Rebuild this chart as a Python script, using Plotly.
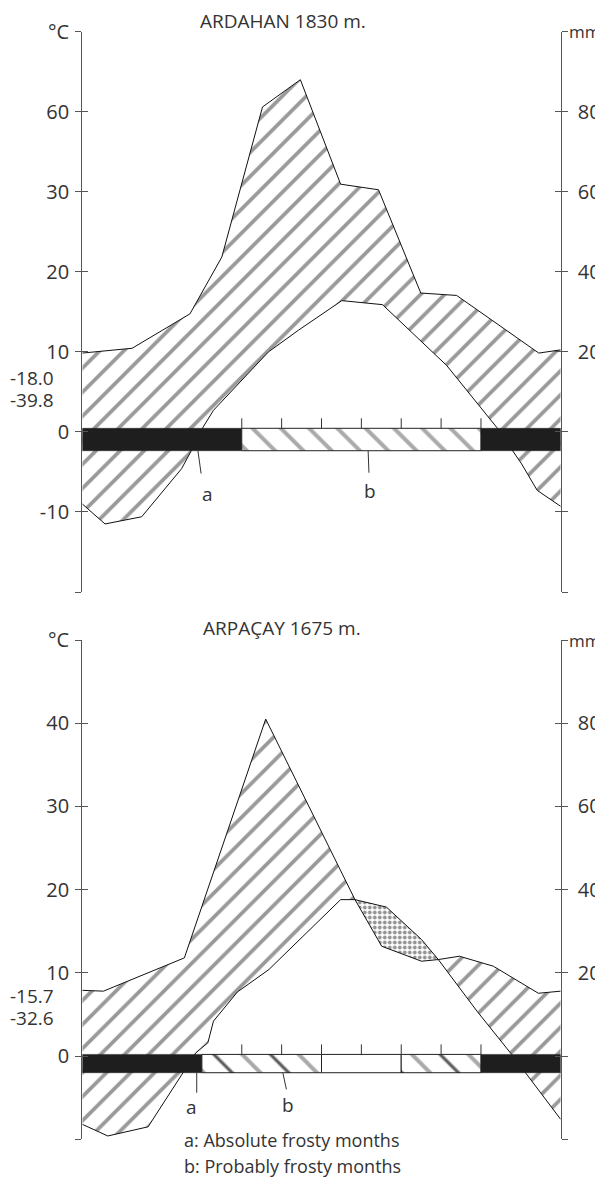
import plotly.graph_objects as go

# ---------------- data ----------------
# positions are in month units along the year (0 = 1 Jan, 12 = 31 Dec)
ard_title = "ARDAHAN 1830 m."
ard_prec_pos = [0, 1.25, 2.70, 3.50, 4.52, 5.47, 6.48, 7.43, 8.49, 9.39, 11.45, 12]
ard_prec_mm = [19.7, 20.9, 29.5, 43.7, 81.2, 88.0, 61.9, 60.5, 34.7, 34.1, 19.7, 20.5]
ard_temp_pos = [0, 0.57, 1.49, 2.49, 2.74, 3.03, 3.29, 4.67, 5.42, 6.51, 7.53, 9.14, 10.39, 11.02, 11.41, 12]
ard_temp_c = [-9.0, -11.5, -10.6, -4.6, -2.3, 0.6, 2.7, 10.0, 12.7, 16.4, 15.9, 8.3, 0.6, -4.0, -7.3, -9.3]
ard_frost = ["a", "a", "a", "a", "b", "b", "b", "b", "b", "b", "a", "a"]
ard_extremes = ["-18.0", "-39.8"]
ard_left_vals = [-10, 0, 10, 20, 30, 40]
ard_left_text = ["-10", "0", "10", "20", "30", "60"]

arp_title = "ARPAÇAY 1675 m."
arp_prec_pos = [0, 0.53, 2.56, 4.60, 6.84, 7.51, 8.51, 8.93, 9.46, 10.31, 11.44, 12]
arp_prec_mm = [15.8, 15.6, 23.6, 81.0, 37.6, 26.4, 22.8, 23.2, 24.0, 21.6, 15.1, 15.6]
arp_temp_pos = [0, 0.64, 1.65, 2.47, 2.85, 3.15, 3.29, 3.89, 4.68, 6.48, 6.84, 7.63, 8.51, 8.93, 9.90, 10.77, 12]
arp_temp_c = [-8.2, -9.6, -8.5, -2.4, 0.4, 1.6, 4.2, 7.7, 10.4, 18.8, 18.8, 17.9, 14.0, 11.6, 5.4, 0.2, -7.6]
arp_dry_span = (6.84, 8.93)
arp_frost = ["a", "a", "a", "b", "b", "b", "-", "-", "b", "b", "a", "a"]
arp_extremes = ["-15.7", "-32.6"]
arp_left_vals = [-10, 0, 10, 20, 30, 40]
arp_left_text = ["-10", "0", "10", "20", "30", "40"]

right_vals_mm = [20, 40, 60, 80]
right_text = ["20", "40", "60", "80"]

legend_lines = ["a: Absolute frosty months", "b: Probably frosty months"]

MM_PER_DEG = 2  # Walter-Lieth scale: 10 degC = 20 mm

# ---------------- style ----------------
VW, VH = 603, 1182          # browser window
BODY = 8                    # default page margin around the plot div
FW, FH = VW - BODY, VH - BODY
FONT = "Open Sans"
TXT = "#333333"
AXC = "#555555"
X0, X1 = 82.3, 560.7        # screen x of the two axes


def px(x):
    return (x - BODY) / FW


def py(y):
    return 1 - (y - BODY) / FH


fig = go.Figure()

panels = [
    dict(xa="x", ya="y", yr="y2", yli="y3", yri="y4",
         title=ard_title, ppos=ard_prec_pos, pmm=ard_prec_mm,
         tpos=ard_temp_pos, tc=ard_temp_c, frost=ard_frost, dry=None,
         bar=(-2.35, 0.45), tick_len=1.25, dark_core=False,
         lead_a=((2.90, 2.98), -5.2, (3.13, -7.7)),
         lead_b=((7.17, 7.19), -5.1, (7.22, -7.4))),
    dict(xa="x2", ya="y5", yr="y6", yli="y7", yri="y8",
         title=arp_title, ppos=arp_prec_pos, pmm=arp_prec_mm,
         tpos=arp_temp_pos, tc=arp_temp_c, frost=arp_frost, dry=arp_dry_span,
         bar=(-2.0, 0.2), tick_len=1.2, dark_core=True,
         lead_a=((2.87, 2.87), -4.4, (2.75, -6.1)),
         lead_b=((5.03, 5.12), -4.0, (5.15, -5.9))),
]

shapes = []
annotations = []

for p in panels:
    xa, ya = p["xa"], p["ya"]
    pdeg = [v / MM_PER_DEG for v in p["pmm"]]

    # humid area between precipitation and temperature curves
    fig.add_trace(go.Scatter(
        x=p["ppos"] + p["tpos"][::-1], y=pdeg + p["tc"][::-1],
        xaxis=xa, yaxis=ya, mode="none", fill="toself", fillcolor="white",
        fillpattern=dict(shape="/", size=17, solidity=0.22, fgcolor="#333333", bgcolor="white"),
        hoverinfo="skip", showlegend=False))

    # dry (arid) area: temperature above precipitation
    if p["dry"] is not None:
        d0, d1 = p["dry"]
        tx = [x for x in p["tpos"] if d0 <= x <= d1]
        ty = [y for x, y in zip(p["tpos"], p["tc"]) if d0 <= x <= d1]
        qx = [x for x in p["ppos"] if d0 <= x <= d1]
        qy = [y for x, y in zip(p["ppos"], pdeg) if d0 <= x <= d1]
        fig.add_trace(go.Scatter(
            x=tx + qx[::-1], y=ty + qy[::-1], xaxis=xa, yaxis=ya,
            mode="none", fill="toself", fillcolor="white",
            fillpattern=dict(shape=".", size=5, solidity=0.45, fgcolor="#2a2a2a", bgcolor="white"),
            hoverinfo="skip", showlegend=False))

    # curves
    fig.add_trace(go.Scatter(x=p["ppos"], y=pdeg, xaxis=xa, yaxis=ya, mode="lines",
                             line=dict(color="#111111", width=1), hoverinfo="skip", showlegend=False))
    fig.add_trace(go.Scatter(x=p["tpos"], y=p["tc"], xaxis=xa, yaxis=ya, mode="lines",
                             line=dict(color="#111111", width=1), hoverinfo="skip", showlegend=False))

    # frost bar
    bot, top = p["bar"]
    codes = p["frost"]
    start = 0
    for i in range(1, len(codes) + 1):
        if i == len(codes) or codes[i] != codes[start]:
            c = codes[start]
            rx = [start, i, i, start, start]
            ry = [bot, bot, top, top, bot]
            if c == "a":
                fig.add_trace(go.Scatter(x=rx, y=ry, xaxis=xa, yaxis=ya, mode="lines",
                                         fill="toself", fillcolor="#1e1e1e",
                                         line=dict(color="#1e1e1e", width=0.5),
                                         hoverinfo="skip", showlegend=False))
            elif c == "b":
                fig.add_trace(go.Scatter(x=rx, y=ry, xaxis=xa, yaxis=ya, mode="lines",
                                         fill="toself", fillcolor="white",
                                         fillpattern=dict(shape="\\", size=20, solidity=0.2,
                                                          fgcolor="#555555", bgcolor="white"),
                                         line=dict(color="#222222", width=1),
                                         hoverinfo="skip", showlegend=False))
                if p["dark_core"]:
                    fig.add_trace(go.Scatter(x=rx, y=ry, xaxis=xa, yaxis=ya, mode="none",
                                             fill="toself", fillcolor="rgba(0,0,0,0)",
                                             fillpattern=dict(shape="\\", size=40, solidity=0.05,
                                                              fgcolor="#000000",
                                                              bgcolor="rgba(0,0,0,0)"),
                                             hoverinfo="skip", showlegend=False))
            else:
                fig.add_trace(go.Scatter(x=rx, y=ry, xaxis=xa, yaxis=ya, mode="lines",
                                         fill="toself", fillcolor="white",
                                         line=dict(color="#222222", width=1),
                                         hoverinfo="skip", showlegend=False))
            start = i

    # month ticks above the bar
    tkx, tky = [], []
    for k in range(4, 11):
        tkx += [k, k, None]
        tky += [top, top + p["tick_len"], None]
    fig.add_trace(go.Scatter(x=tkx, y=tky, xaxis=xa, yaxis=ya, mode="lines",
                             line=dict(color="#333333", width=1), hoverinfo="skip", showlegend=False))

    # leader lines for "a" and "b"
    for lab, (xs, yend, (tx_, ty_)) in (("a", p["lead_a"]), ("b", p["lead_b"])):
        shapes.append(dict(type="line", xref=xa, yref=ya, x0=xs[0], y0=bot, x1=xs[1], y1=yend,
                           line=dict(color="#333333", width=1)))
        annotations.append(dict(text=lab, x=tx_, y=ty_, xref=xa, yref=ya, showarrow=False,
                                xanchor="center", yanchor="middle",
                                font=dict(family=FONT, size=19, color=TXT)))

    # dummy traces so overlay axes get drawn
    for yy in (p["yr"], p["yli"], p["yri"]):
        fig.add_trace(go.Scatter(x=[None], y=[None], xaxis=xa, yaxis=yy,
                                 hoverinfo="skip", showlegend=False))

# ---------------- axes ----------------
xdom = [px(X0), px(X1)]
top_dom = [py(592.0), py(31.7)]
bot_dom = [py(1139.3), py(640.0)]

tickfont = dict(family=FONT, size=20, color=TXT)


def left_axis(dom, rng, vals, text, anchor):
    return dict(domain=dom, range=rng, anchor=anchor, side="left", automargin=False,
                showline=True, linecolor=AXC, linewidth=1.3, showgrid=False, zeroline=False,
                ticks="outside", ticklen=6, tickwidth=1, tickcolor=AXC,
                tickvals=[rng[0]] + vals + [rng[1]], ticktext=[""] + text + ["°C"],
                tickfont=tickfont, ticklabelstandoff=2)


def right_axis(over, rng_deg, anchor):
    r = [rng_deg[0] * MM_PER_DEG, rng_deg[1] * MM_PER_DEG]
    vals = list(range(int(r[0]), int(r[1]) + 1, 20))
    text = [right_text[right_vals_mm.index(v)] if v in right_vals_mm else "" for v in vals]
    return dict(overlaying=over, side="right", anchor=anchor, range=r, automargin=False,
                showline=True, linecolor=AXC, linewidth=1.3, showgrid=False, zeroline=False,
                ticks="outside", ticklen=6, tickwidth=1, tickcolor=AXC,
                tickvals=vals, ticktext=text, tickfont=tickfont, ticklabelstandoff=6)


def inner_ticks(over, side, rng, vals, anchor):
    return dict(overlaying=over, side=side, anchor=anchor, range=rng, automargin=False,
                showline=False, showgrid=False, zeroline=False,
                ticks="inside", ticklen=6, tickwidth=1, tickcolor=AXC,
                tickvals=vals, showticklabels=False)


top_rng = [-20, 50]
bot_rng = [-10, 50]
top_vals = list(range(-20, 51, 10))
bot_vals = list(range(-10, 51, 10))

layout = dict(
    width=FW, height=FH, margin=dict(l=0, r=0, t=0, b=0, autoexpand=False),
    paper_bgcolor="white", plot_bgcolor="white", showlegend=False,
    xaxis=dict(domain=xdom, range=[0, 12], anchor="y", visible=False, automargin=False),
    xaxis2=dict(domain=xdom, range=[0, 12], anchor="y5", visible=False, automargin=False),
    yaxis=left_axis(top_dom, top_rng, ard_left_vals, ard_left_text, "x"),
    yaxis2=right_axis("y", top_rng, "x"),
    yaxis3=inner_ticks("y", "left", top_rng, top_vals, "x"),
    yaxis4=inner_ticks("y", "right", top_rng, top_vals, "x"),
    yaxis5=left_axis(bot_dom, bot_rng, arp_left_vals, arp_left_text, "x2"),
    yaxis6=right_axis("y5", bot_rng, "x2"),
    yaxis7=inner_ticks("y5", "left", bot_rng, bot_vals, "x2"),
    yaxis8=inner_ticks("y5", "right", bot_rng, bot_vals, "x2"),
)


def paper_text(txt, x, y, size, xanchor="center"):
    annotations.append(dict(text=txt, x=px(x), y=py(y), xref="paper", yref="paper",
                            xanchor=xanchor, yanchor="middle", showarrow=False,
                            font=dict(family=FONT, size=size, color=TXT)))


# titles
paper_text(ard_title, 283, 21, 19)
paper_text(arp_title, 281.5, 627.5, 19)
# mm unit labels
for yy in (31.7, 640.0):
    paper_text("mm", 567, yy, 17, "left")
# extreme temperature labels
for txt, yy in zip(ard_extremes, (378, 400)):
    paper_text(txt, 56, yy, 19, "right")
for txt, yy in zip(arp_extremes, (996, 1018)):
    paper_text(txt, 56, yy, 19, "right")
# legend text
for txt, yy in zip(legend_lines, (1140, 1165.5)):
    paper_text(txt, 182, yy, 18, "left")

layout["shapes"] = shapes
layout["annotations"] = annotations
fig.update_layout(**layout)

fig.write_html("out.html")
